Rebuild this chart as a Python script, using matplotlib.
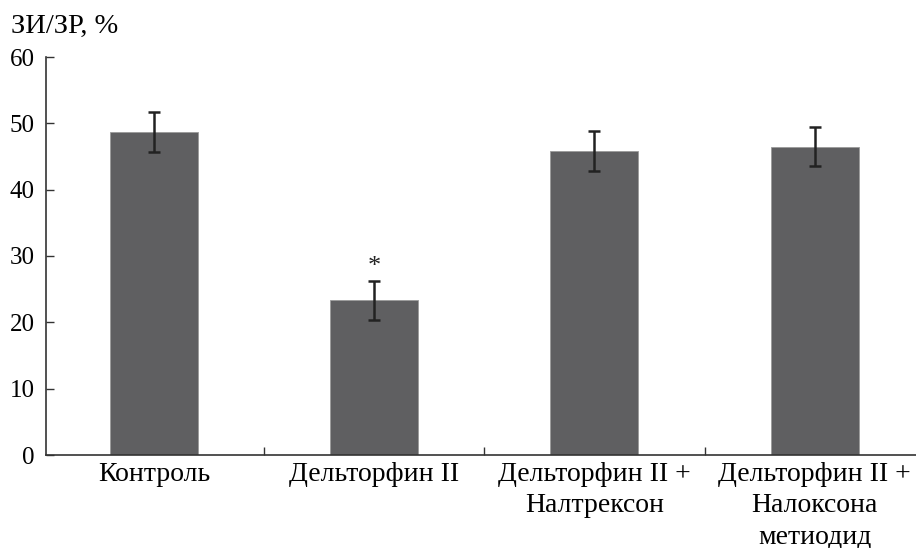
import matplotlib
matplotlib.use("Agg")
import matplotlib.pyplot as plt
import numpy as np

categories = ["Контроль", "Дельторфин II", "Дельторфин II +\nНалтрексон", "Дельторфин II +\nНалоксона\nметиодид"]
values = [48.7, 23.3, 45.8, 46.5]
errors = [3.0, 3.0, 3.0, 3.0]
yticks = [0, 10, 20, 30, 40, 50, 60]

plt.rcParams['font.family'] = ['Liberation Serif', 'DejaVu Serif']

fig = plt.figure(figsize=(9.16, 5.48), dpi=100)
ax = fig.add_axes([46/916, 93/548, 870/916, 398/548])

x = np.arange(len(categories))
ax.bar(x, values, width=0.4, color='#5f5f61', edgecolor='#9a9a9a', linewidth=0.6, zorder=2)
ax.errorbar(x, values, yerr=errors, fmt='none', ecolor='#222222', elinewidth=1.8,
            capsize=4.5, capthick=1.8, zorder=3)

ax.text(1, 28.4, '*', ha='center', va='center', fontsize=19, color='#222222')

ax.set_xlim(-0.49, 3.46)
ax.set_ylim(0, 60)
ax.set_yticks(yticks)
ax.set_yticklabels([str(t) for t in yticks], fontsize=18)
ax.set_xticks(x)
ax.set_xticklabels(categories, fontsize=20, linespacing=1.33, va='top')
ax.set_xticks([0.5, 1.5, 2.5], minor=True)
ax.tick_params(axis='x', which='major', length=0, pad=5)
ax.tick_params(axis='x', which='minor', direction='in', length=6, width=1, color='#333333')
ax.tick_params(axis='y', direction='in', length=6, width=1, color='#333333', pad=8)

for s in ['top', 'right']:
    ax.spines[s].set_visible(False)
for s in ['left', 'bottom']:
    ax.spines[s].set_color('#333333')
    ax.spines[s].set_linewidth(1.2)

fig.text(11/916, 1 - 33/548, 'ЗИ/ЗР, %', fontsize=20.5, ha='left', va='baseline')

fig.savefig('out.png', dpi=100)
